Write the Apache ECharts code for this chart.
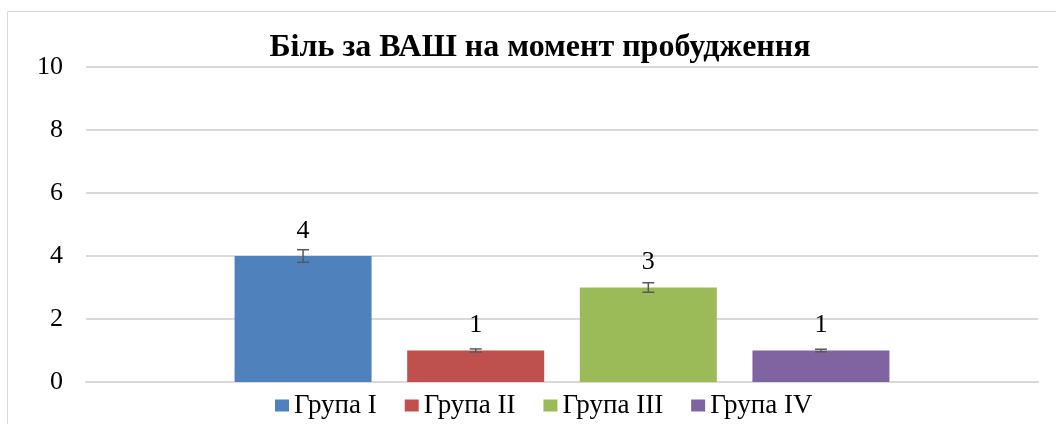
<!DOCTYPE html>
<html><head><meta charset="utf-8">
<script src="https://cdn.jsdelivr.net/npm/echarts@6/dist/echarts.min.js"></script>
<style>html,body{margin:0;padding:0;background:#fff}#c{width:1056px;height:424px}</style>
</head><body><div id="c"></div>
<script>
const titleText = 'Біль за ВАШ на момент пробудження';
const categories = [''];
const seriesNames = ['Група I', 'Група II', 'Група III', 'Група IV'];
const values = [4, 1, 3, 1];
const errors = [0.2, 0.05, 0.15, 0.04];
const colors = ['#4f81bd', '#c0504d', '#9bbb59', '#8064a2'];
const yTicks = { min: 0, max: 10, interval: 2 };

const FONT = '"Liberation Serif","Times New Roman",serif';
const chart = echarts.init(document.getElementById('c'));

const series = [];
seriesNames.forEach((name, i) => {
  series.push({
    name, type: 'bar', data: [values[i]],
    barWidth: 137, barGap: '26%',
    itemStyle: { color: colors[i] },
    label: { show: true, position: 'top', distance: 12, color: '#000', fontFamily: FONT, fontSize: 26 },
    z: 2
  });
});
seriesNames.forEach((name, i) => {
  series.push({
    type: 'custom', name: name + '_err', silent: true, z: 5,
    data: [[0, values[i] - errors[i], values[i] + errors[i]]],
    renderItem: (params, api) => {
      const lo = api.coord([api.value(0), api.value(1)]);
      const hi = api.coord([api.value(0), api.value(2)]);
      const bw = 137, gap = 137 * 0.26;
      const total = 4 * bw + 3 * gap;
      const cx = lo[0] - total / 2 + i * (bw + gap) + bw / 2;
      const st = { stroke: '#595959', lineWidth: 1.5 };
      return { type: 'group', children: [
        { type: 'line', shape: { x1: cx, y1: lo[1], x2: cx, y2: hi[1] }, style: st },
        { type: 'line', shape: { x1: cx - 6, y1: lo[1], x2: cx + 6, y2: lo[1] }, style: st },
        { type: 'line', shape: { x1: cx - 6, y1: hi[1], x2: cx + 6, y2: hi[1] }, style: st }
      ]};
    }
  });
});

chart.setOption({
  animation: false,
  title: { text: titleText, left: 535, top: 27, textAlign: 'center',
    textStyle: { fontFamily: FONT, fontWeight: 'bold', fontSize: 32, color: '#000' } },
  legend: {
    data: seriesNames.map((n, i) => ({ name: n, icon: 'rect', itemStyle: { color: colors[i] } })),
    top: 392, left: 275, itemWidth: 14, itemHeight: 12, itemGap: 28, padding: 0,
    textStyle: { fontFamily: FONT, fontSize: 27, color: '#000' }
  },
  grid: { left: 86, right: 18, top: 67, bottom: 42, containLabel: false },
  xAxis: { type: 'category', data: categories, axisLine: { lineStyle: { color: '#d9d9d9', width: 2 } },
    axisTick: { show: false }, axisLabel: { show: false } },
  yAxis: { type: 'value', min: yTicks.min, max: yTicks.max, interval: yTicks.interval,
    axisLine: { show: false }, axisTick: { show: false },
    axisLabel: { fontFamily: FONT, fontSize: 26, color: '#000', margin: 23 },
    splitLine: { lineStyle: { color: '#d9d9d9', width: 2 } } },
  graphic: [{ type: 'rect', shape: { x: 7.5, y: 11.5, width: 1100, height: 500 }, silent: true,
    style: { fill: 'none', stroke: '#d9d9d9', lineWidth: 1 }, z: -1 }],
  series
});
</script></body></html>
